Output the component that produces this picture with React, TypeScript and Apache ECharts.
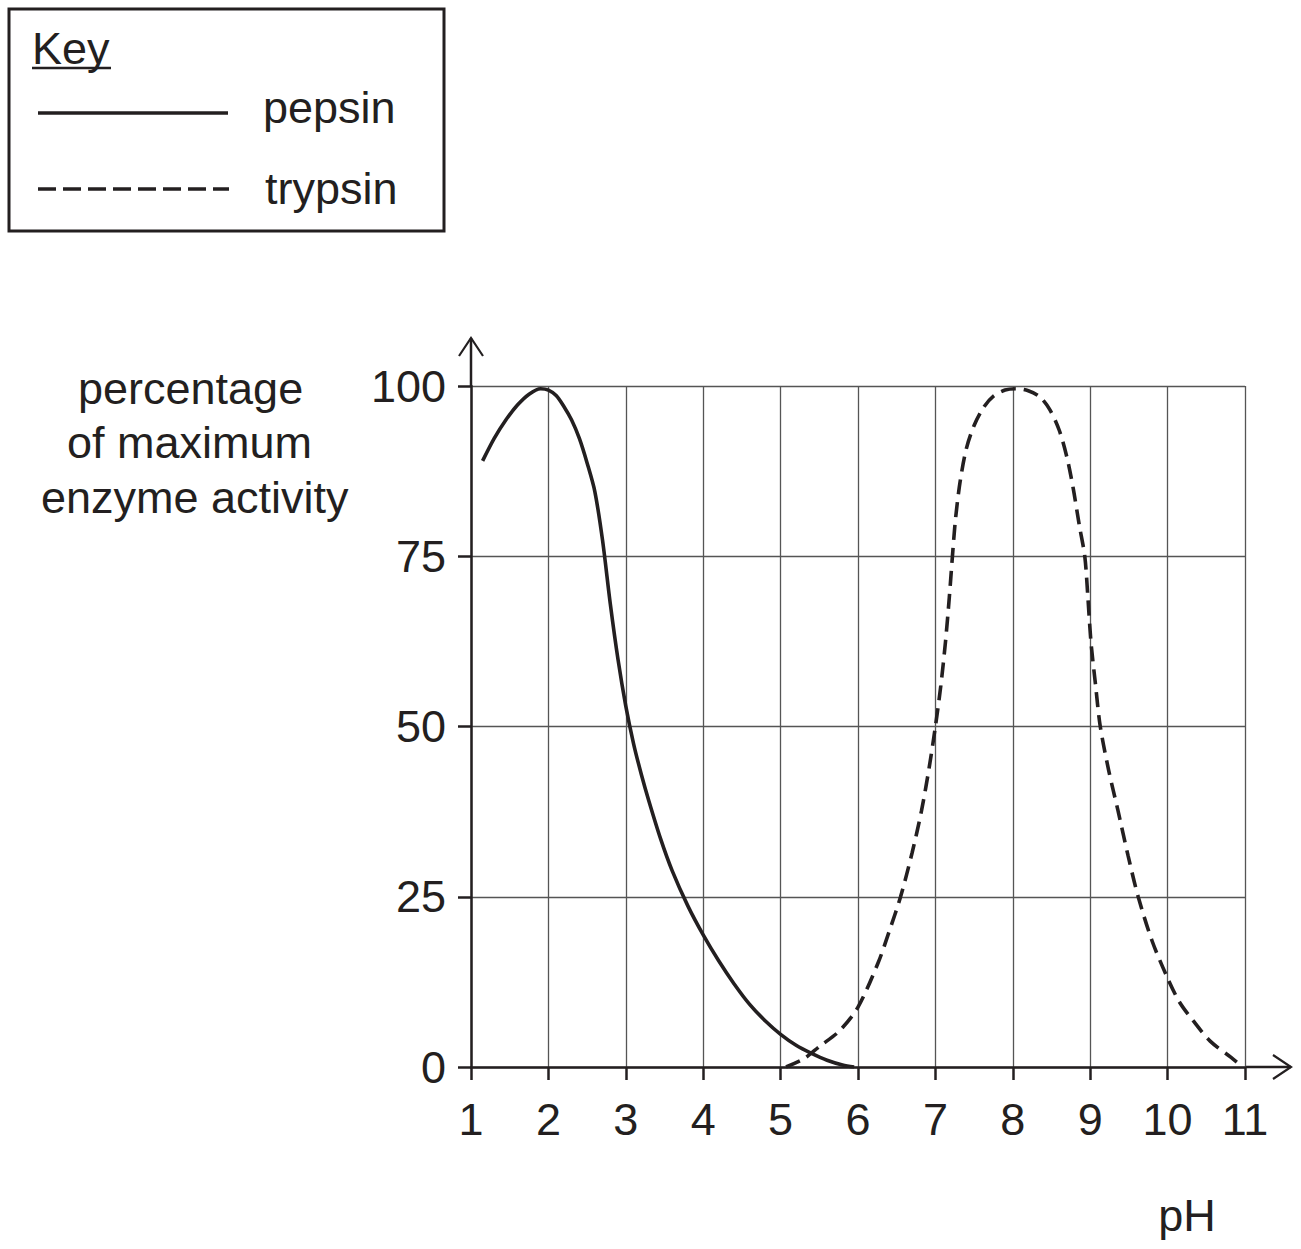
import React, { useEffect, useRef } from "react";
import * as echarts from "echarts";

// pH values and % activity
const pepsinPH = [1.15, 1.3, 1.45, 1.6, 1.75, 1.9, 2.0, 2.1, 2.2, 2.3, 2.4, 2.5, 2.6, 2.7, 2.8, 2.9, 3.0, 3.1, 3.2, 3.3, 3.45, 3.6, 3.8, 4.0, 4.2, 4.4, 4.6, 4.8, 5.0, 5.2, 5.4, 5.6, 5.8, 5.95];
const pepsinActivity = [89, 92.3, 95, 97.2, 98.8, 99.6, 99.4, 98.6, 97, 95, 92.3, 88.7, 84.5, 77.3, 68, 59.8, 53, 47.5, 43, 39, 33.5, 28.8, 23.7, 19.4, 15.6, 12.2, 9.2, 6.8, 4.8, 3.2, 2.0, 1.0, 0.3, 0];

const trypsinPH = [5.07, 5.3, 5.5, 5.76, 6.0, 6.26, 6.4, 6.55, 6.7, 6.82, 6.92, 7.0, 7.07, 7.13, 7.18, 7.22, 7.26, 7.32, 7.4, 7.5, 7.62, 7.75, 7.9, 8.05, 8.2, 8.35, 8.48, 8.6, 8.7, 8.78, 8.86, 8.93, 8.97, 9.01, 9.07, 9.13, 9.24, 9.36, 9.49, 9.62, 9.8, 9.99, 10.15, 10.33, 10.55, 10.82, 10.97];
const trypsinActivity = [0, 1.2, 3, 5.3, 8.8, 15.3, 19.8, 25, 31.5, 37.6, 44, 50, 56, 62.4, 69, 75, 80.5, 86, 90.8, 94.2, 96.8, 98.5, 99.4, 99.6, 99.3, 98.4, 96.5, 93.5, 89.5, 85, 79.5, 75, 69, 62.4, 56, 50, 43.5, 37.6, 31, 25, 18.5, 13.3, 9.6, 6.8, 3.8, 1.4, 0];

const yTicks = [0, 25, 50, 75, 100];
const xTicks = [1, 2, 3, 4, 5, 6, 7, 8, 9, 10, 11];
const yNameLines = ["percentage", "of maximum", "enzyme activity"];
const keyLabels = ["pepsin", "trypsin"];

const INK = "#231f20";
const FONT = "'Liberation Sans', Arial, sans-serif";
const FS = 45;

const W = 1301;
const H = 1249;
const GRID_LEFT = 471;
const GRID_TOP = 386;
const GRID_RIGHT = 56;
const GRID_BOTTOM = 182;

const App: React.FC = () => {
  const chartRef = useRef<HTMLDivElement>(null);

  useEffect(() => {
    if (!chartRef.current) return;
    const chart = echarts.init(chartRef.current, undefined, { renderer: "svg" });

    const axisRight = W - GRID_RIGHT;
    const axisBottom = H - GRID_BOTTOM;
    const textStyle = { fill: INK, font: `${FS}px ${FONT}` };
    // left edges of the three lines of the y-axis title
    const yNameX = [78, 67, 41];

    chart.setOption({
      animation: false,
      backgroundColor: "#fff",
      grid: { left: GRID_LEFT, top: GRID_TOP, right: GRID_RIGHT, bottom: GRID_BOTTOM, containLabel: false },
      xAxis: {
        type: "value",
        min: xTicks[0],
        max: xTicks[xTicks.length - 1],
        interval: 1,
        axisLine: { show: true, onZero: false, lineStyle: { color: INK, width: 2.5 } },
        axisTick: { show: true, length: 13, lineStyle: { color: INK, width: 2.5 } },
        axisLabel: { color: INK, fontSize: FS, fontFamily: FONT, margin: 30 },
        splitLine: { show: true, lineStyle: { color: "#555", width: 1.3 } },
      },
      yAxis: {
        type: "value",
        min: yTicks[0],
        max: yTicks[yTicks.length - 1],
        interval: 25,
        axisLine: { show: true, lineStyle: { color: INK, width: 2.5 } },
        axisTick: { show: true, length: 13, lineStyle: { color: INK, width: 2.5 } },
        axisLabel: { color: INK, fontSize: FS, fontFamily: FONT, margin: 25 },
        splitLine: { show: true, lineStyle: { color: "#555", width: 1.3 } },
      },
      series: [
        {
          name: keyLabels[0],
          type: "line",
          smooth: 0.3,
          showSymbol: false,
          data: pepsinPH.map((x, i) => [x, pepsinActivity[i]]),
          lineStyle: { color: INK, width: 3.6 },
          z: 5,
        },
        {
          name: keyLabels[1],
          type: "line",
          smooth: 0.3,
          showSymbol: false,
          data: trypsinPH.map((x, i) => [x, trypsinActivity[i]]),
          lineStyle: { color: INK, width: 3.6, type: [15, 8] },
          z: 5,
        },
      ],
      graphic: [
        // key box
        { type: "rect", shape: { x: 9, y: 9, width: 435, height: 222 }, style: { fill: "none", stroke: INK, lineWidth: 3 } },
        { type: "text", x: 32, y: 48, style: { ...textStyle, text: "Key", verticalAlign: "middle" } },
        { type: "line", shape: { x1: 32, y1: 68, x2: 111, y2: 68 }, style: { stroke: INK, lineWidth: 2.5 } },
        { type: "line", shape: { x1: 38, y1: 113, x2: 228, y2: 113 }, style: { stroke: INK, lineWidth: 3.6 } },
        { type: "text", x: 263, y: 107, style: { ...textStyle, text: keyLabels[0], verticalAlign: "middle" } },
        { type: "line", shape: { x1: 38, y1: 189, x2: 229, y2: 189 }, style: { stroke: INK, lineWidth: 3.6, lineDash: [18, 7] } },
        { type: "text", x: 265, y: 188, style: { ...textStyle, text: keyLabels[1], verticalAlign: "middle" } },
        // axis arrow extensions
        { type: "line", shape: { x1: GRID_LEFT, y1: GRID_TOP, x2: GRID_LEFT, y2: 338 }, style: { stroke: INK, lineWidth: 2.5 } },
        { type: "polyline", shape: { points: [[459, 356], [GRID_LEFT, 338], [483, 356]] }, style: { fill: "none", stroke: INK, lineWidth: 2.2 } },
        { type: "line", shape: { x1: axisRight, y1: axisBottom, x2: 1291, y2: axisBottom }, style: { stroke: INK, lineWidth: 2.5 } },
        { type: "polyline", shape: { points: [[1273, axisBottom - 12], [1291, axisBottom], [1273, axisBottom + 12]] }, style: { fill: "none", stroke: INK, lineWidth: 2.2 } },
        // axis names
        ...yNameLines.map((t, i) => ({
          type: "text",
          x: yNameX[i],
          y: 388 + i * 54.5,
          style: { ...textStyle, text: t, verticalAlign: "middle" },
        })),
        { type: "text", x: 1187, y: 1215, style: { ...textStyle, text: "pH", align: "center", verticalAlign: "middle" } },
      ],
    });

    return () => {
      chart.dispose();
    };
  }, []);

  return (
    <div
      ref={chartRef}
      style={{ position: "absolute", left: 0, top: 0, width: W, height: H }}
    />
  );
};

export default App;
